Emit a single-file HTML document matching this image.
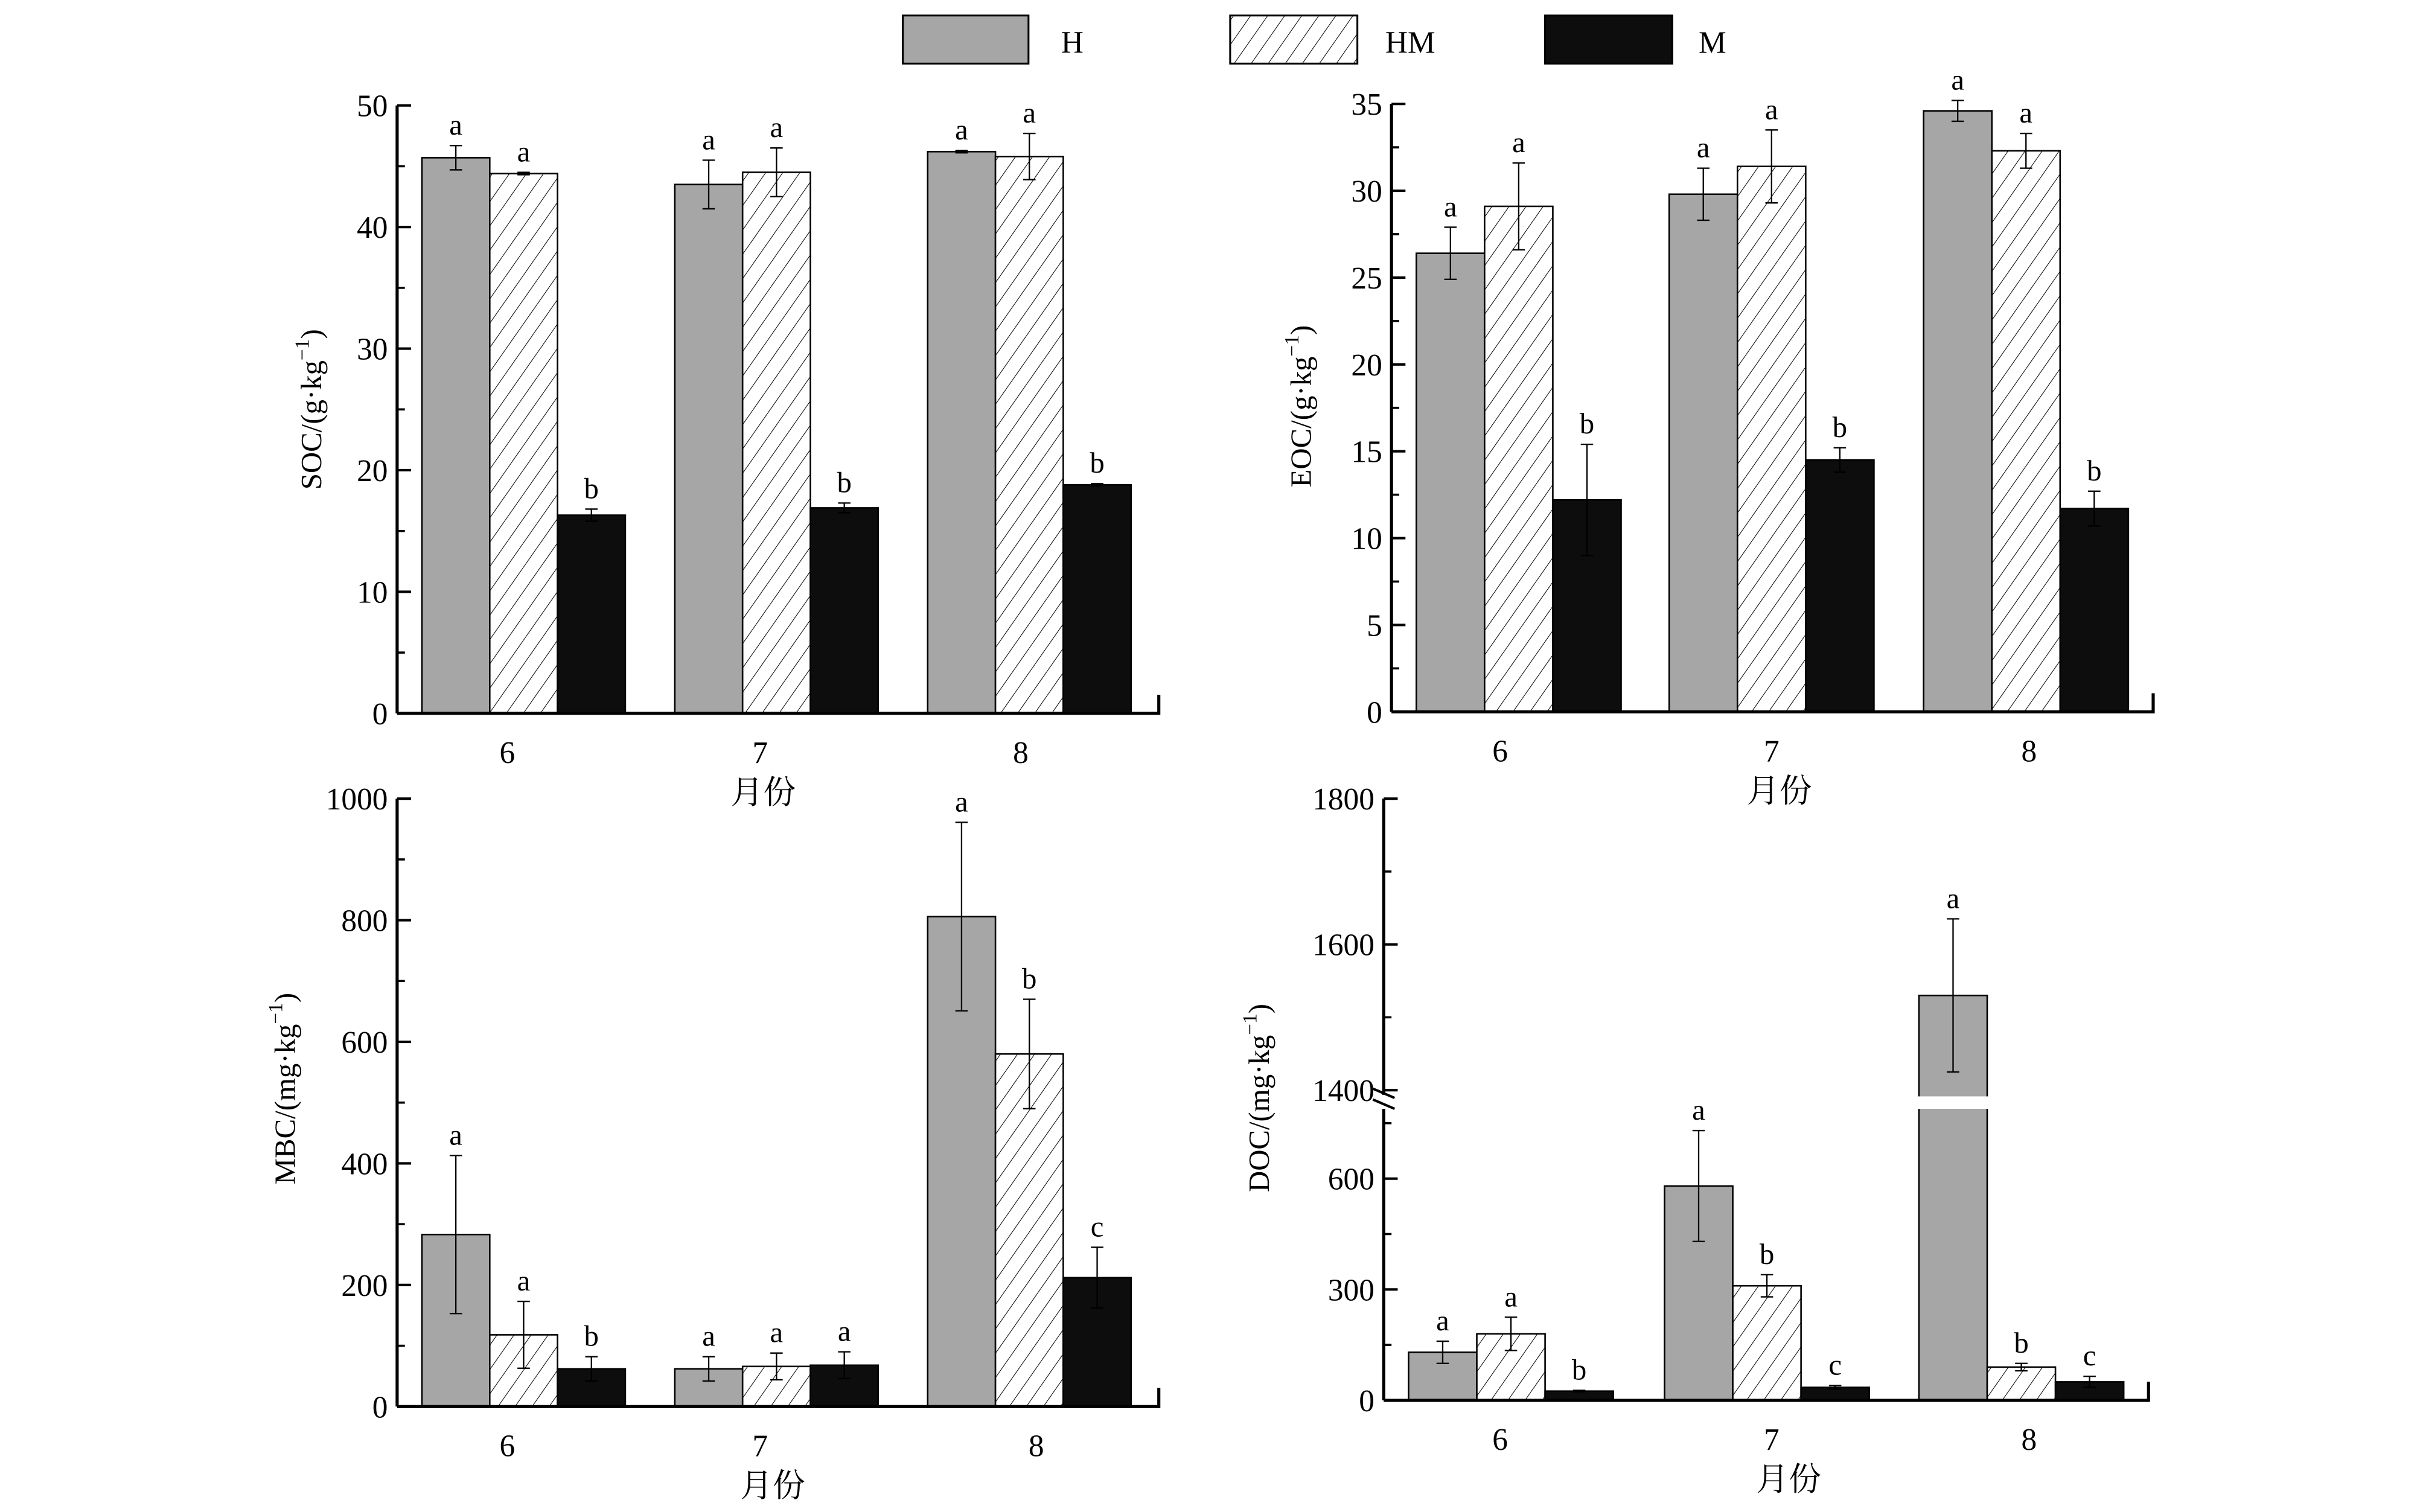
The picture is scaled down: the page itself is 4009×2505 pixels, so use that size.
<!DOCTYPE html>
<html><head><meta charset="utf-8"><style>
html,body{margin:0;padding:0;background:#fff}
svg{display:block}
text{font-family:"Liberation Serif","Noto Serif CJK SC","Noto Sans CJK SC",serif;fill:#000}
</style></head><body>
<svg id="chart" width="4009" height="2505" viewBox="0 0 1560 975" preserveAspectRatio="none" xmlns="http://www.w3.org/2000/svg">
<defs>
<pattern id="hatch" patternUnits="userSpaceOnUse" width="9" height="9" patternTransform="rotate(35)">
<rect width="9" height="9" fill="#fff"/><line x1="0" y1="0" x2="0" y2="9" stroke="#000" stroke-width="0.8"/>
</pattern>
</defs>
<g>
<rect x="582" y="10" width="81" height="31" fill="#a6a6a6" stroke="#000" stroke-width="1.2"/>
<text x="684" y="34" font-size="20">H</text>
<rect x="793" y="10" width="82" height="31" fill="url(#hatch)" stroke="#000" stroke-width="1.2"/>
<text x="893" y="34" font-size="20">HM</text>
<rect x="996" y="10" width="82" height="31" fill="#0d0d0d" stroke="#000" stroke-width="1.2"/>
<text x="1095" y="34" font-size="20">M</text>
</g>
<g id="plots"></g>
</svg>
<script>
const months = ['6','7','8'];
const socH = [45.7, 43.5, 46.2], socHM = [44.4, 44.5, 45.8], socM = [16.3, 16.9, 18.8];
const socEH = [1.0, 2.0, 0.1], socEHM = [0.1, 2.0, 1.9], socEM = [0.5, 0.4, 0.1];
const socL = [['a','a','b'],['a','a','b'],['a','a','b']];
const socTicks = [0,10,20,30,40,50];
const eocH = [26.4, 29.8, 34.6], eocHM = [29.1, 31.4, 32.3], eocM = [12.2, 14.5, 11.7];
const eocEH = [1.5, 1.5, 0.6], eocEHM = [2.5, 2.1, 1.0], eocEM = [3.2, 0.7, 1.0];
const eocL = [['a','a','b'],['a','a','b'],['a','a','b']];
const eocTicks = [0,5,10,15,20,25,30,35];
const mbcH = [283, 62, 806], mbcHM = [118, 66, 580], mbcM = [62, 68, 212];
const mbcEH = [130, 20, 155], mbcEHM = [55, 22, 90], mbcEM = [20, 22, 50];
const mbcL = [['a','a','b'],['a','a','a'],['a','b','c']];
const mbcTicks = [0,200,400,600,800,1000];
const docH = [130, 580, 1530], docHM = [180, 310, 90], docM = [25, 35, 50];
const docEH = [30, 150, 105], docEHM = [45, 30, 10], docEM = [2, 5, 15];
const docL = [['a','a','b'],['a','b','c'],['a','b','c']];
const docTicksLow = [0,300,600];
const docTicksHigh = [1400,1600,1800];

const NS='http://www.w3.org/2000/svg';
const root=document.getElementById('plots');
function mk(tag,attrs,parent){const e=document.createElementNS(NS,tag);for(const k in attrs)e.setAttribute(k,attrs[k]);(parent||root).appendChild(e);return e;}
function txt(s,x,y,size,parent,anchor){const t=mk('text',{x:x,y:y,'font-size':size,'text-anchor':anchor||'middle'},parent);t.textContent=s;return t;}

function panel(cfg){
  const g=mk('g',{});
  
  
  const ax=cfg.ax, y0=cfg.y0, xr=cfg.xr, ys=cfg.ys;
  // bars
  const series=[[cfg.H,cfg.EH,'#a6a6a6'],[cfg.HM,cfg.EHM,'url(#hatch)'],[cfg.M,cfg.EM,'#0d0d0d']];
  const names=['h','hm','m'];
  for(let i=0;i<3;i++){
    for(let s=0;s<3;s++){
      const v=series[s][0][i], e=series[s][1][i];
      const x=cfg.gx[i]+s*cfg.bw;
      const yt=ys(v);
      const r=mk('rect',{x:x,y:yt,width:cfg.bw,height:y0-yt,fill:series[s][2],stroke:'#000','stroke-width':1},g);
      
      
      const cx=x+cfg.bw/2, yu=ys(v+e), yd=ys(Math.max(0,v-e));
      const eb=mk('path',{d:`M${cx},${yu}V${yd}M${cx-4},${yu}H${cx+4}M${cx-4},${yd}H${cx+4}`,stroke:'#000','stroke-width':0.9,fill:'none'},g);
      
      
      const lt=txt(cfg.L[i][s],cx,yu-7,19,g);
      
      
    }
    const ml=txt(months[i],cfg.lx[i],y0+32,20,g);
    
    
  }
  if(cfg.gap){
    const gr=mk('rect',{x:cfg.gx[2]-1,y:cfg.gap[0],width:cfg.bw+2,height:cfg.gap[1]-cfg.gap[0],fill:'#fff'},g);
    
    
  }
  // axes
  const xa=mk('path',{d:`M${ax},${y0}H${xr}V${y0-12}`,stroke:'#000','stroke-width':2,fill:'none'},g);
  
  
  if(cfg.breakY){
    const b=cfg.breakY;
    const ya=mk('path',{d:`M${ax},${cfg.ytop}V${b-4}M${ax},${b+5}V${y0}`,stroke:'#000','stroke-width':2,fill:'none'},g);
    
    
    const bk=mk('path',{d:`M${ax-7},${b-8}L${ax+7},${b-2}M${ax-7},${b-1}L${ax+7},${b+5}`,stroke:'#000','stroke-width':1.6,fill:'none'},g);
    
    
  } else {
    const ya=mk('path',{d:`M${ax},${cfg.ytop}V${y0}`,stroke:'#000','stroke-width':2,fill:'none'},g);
    
    
  }
  cfg.ticks.forEach(t=>{
    const y=ys(t);
    const tk=mk('line',{x1:ax,x2:ax+9,y1:y,y2:y,stroke:'#000','stroke-width':1.6},g);
    
    
    const tl=txt(String(t),ax-6,y+7,20,g,'end');
    
    
  });
  cfg.minor.forEach(t=>{
    const y=ys(t);
    const tk=mk('line',{x1:ax,x2:ax+5,y1:y,y2:y,stroke:'#000','stroke-width':1.4},g);
    
    
  });
  const yt=mk('text',{x:0,y:0,'font-size':19,'text-anchor':'middle',transform:`translate(${cfg.tx},${cfg.ty}) rotate(-90)`},g);
  yt.innerHTML=cfg.title+'/('+cfg.unit+'·kg<tspan dy="-8" font-size="13">−1</tspan><tspan dy="8">)</tspan>';
  
  
  const xt=txt('月份',cfg.xtx,y0+58,21,g);
  
  
}
function lin(y0,ytop,vmax){return v=>y0-(y0-ytop)*v/vmax;}

panel({name:'soc',ax:256,y0:460,ytop:68,xr:747,ys:lin(460,68,50),H:socH,HM:socHM,M:socM,EH:socEH,EHM:socEHM,EM:socEM,L:socL,
  gx:[272,435,598],bw:43.7,lx:[327,490,658],ticks:socTicks,minor:[5,15,25,35,45],title:'SOC',unit:'g',tx:207,ty:264,xtx:492});
panel({name:'eoc',ax:897,y0:459,ytop:67,xr:1388,ys:lin(459,67,35),H:eocH,HM:eocHM,M:eocM,EH:eocEH,EHM:eocEHM,EM:eocEM,L:eocL,
  gx:[913,1076,1240],bw:44,lx:[967,1142,1308],ticks:eocTicks,minor:[2.5,7.5,12.5,17.5,22.5,27.5,32.5],title:'EOC',unit:'g',tx:845,ty:262,xtx:1147});
panel({name:'mbc',ax:256,y0:907,ytop:515,xr:747,ys:lin(907,515,1000),H:mbcH,HM:mbcHM,M:mbcM,EH:mbcEH,EHM:mbcEHM,EM:mbcEM,L:mbcL,
  gx:[272,435,598],bw:43.7,lx:[327,490,668],ticks:mbcTicks,minor:[100,300,500,700,900],title:'MBC',unit:'mg',tx:190,ty:702,xtx:498});
function docScale(v){ if(v<=800) return 903-v*0.2383; return 703-(v-1400)*0.47; }
panel({name:'doc',ax:892,y0:903,ytop:515,xr:1385,ys:docScale,H:docH,HM:docHM,M:docM,EH:docEH,EHM:docEHM,EM:docEM,L:docL,
  gx:[908,1073,1237],bw:44,lx:[967,1142,1308],ticks:docTicksLow.concat(docTicksHigh),minor:[150,450,750,1500,1700],title:'DOC',unit:'mg',tx:818,ty:708,xtx:1153,
  breakY:710,gap:[707,715]});
</script>
</body></html>
